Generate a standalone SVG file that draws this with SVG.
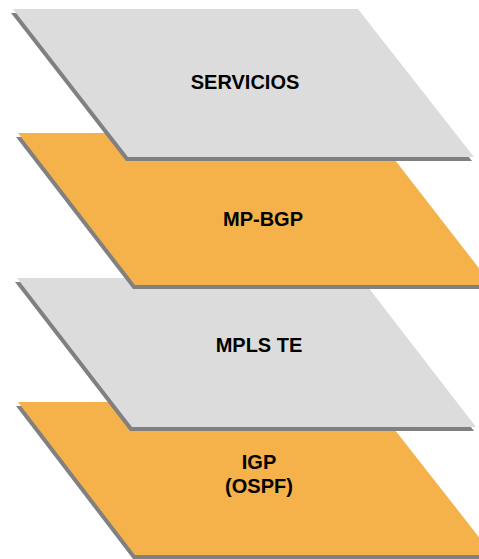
<svg xmlns="http://www.w3.org/2000/svg" width="479" height="559" viewBox="0 0 479 559">
<style>
.sh{fill:#808080}
.gray{fill:#DCDCDC}
.orange{fill:#F5B14A}
.lbl{font-family:"Liberation Sans",Arial,sans-serif;font-weight:bold;font-size:20px;fill:#000;text-anchor:middle}
</style>
<rect width="479" height="559" fill="#FFFFFF"/>
<g id="igp">
<polygon class="sh" transform="translate(-2,4)" points="18,402 373,402 493,555 135,555"/>
<polygon class="orange" points="18,402 373,402 493,555 135,555"/>
<text class="lbl" x="259" y="469">IGP</text>
<text class="lbl" x="259" y="493">(OSPF)</text>
</g>
<g id="mpls-te">
<polygon class="sh" transform="translate(-2,4)" points="17,278 361,278 476,427 132,427"/>
<polygon class="gray" points="17,278 361,278 476,427 132,427"/>
<text class="lbl" x="259" y="352">MPLS TE</text>
</g>
<g id="mp-bgp">
<polygon class="sh" transform="translate(-2,4)" points="18,133 374,133 492,285 135,285"/>
<polygon class="orange" points="18,133 374,133 492,285 135,285"/>
<text class="lbl" x="263" y="226">MP-BGP</text>
</g>
<g id="servicios">
<polygon class="sh" transform="translate(-2,4)" points="13,9 358,9 474,157 128,157"/>
<polygon class="gray" points="13,9 358,9 474,157 128,157"/>
<text class="lbl" x="245" y="89">SERVICIOS</text>
</g>
<g id="connectors"/>
</svg>
